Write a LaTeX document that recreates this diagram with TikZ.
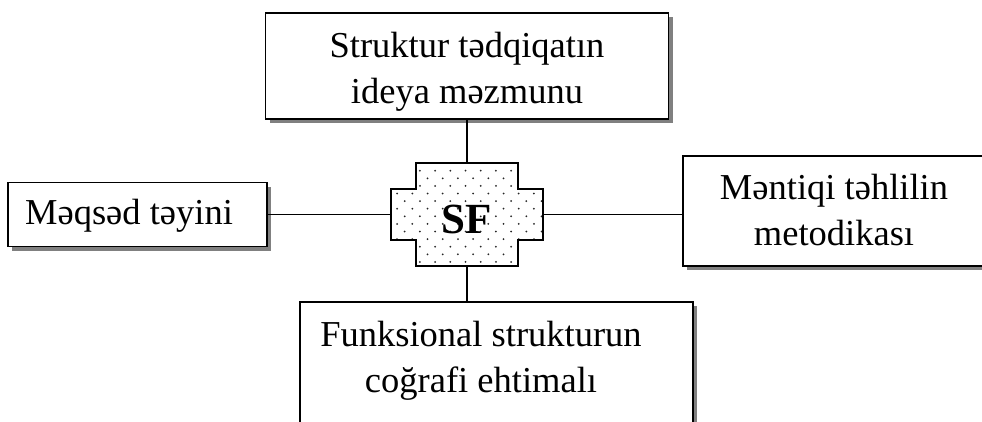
\documentclass[tikz,border=0pt]{standalone}
\usepackage{fontspec}
\setmainfont{Liberation Serif}
\usetikzlibrary{shadows}
\begin{document}
\begin{tikzpicture}[x=1pt,y=-1pt,
  box/.style={draw=black, line width=1.9pt, fill=white, rectangle, inner sep=0pt,
     general shadow={fill=black!50, shadow xshift=4pt, shadow yshift=-4pt}},
  lbl/.style={font=\fontsize{36.5}{46}\selectfont, align=center, inner sep=0pt},
  ghost/.style={rectangle, inner sep=0pt, draw=none},
  link/.style={line width=1.6pt}]
\useasboundingbox (0,0) rectangle (982,421);
\fill[white] (0,0) rectangle (982,421);
% boxes
\node[box, minimum width=403pt, minimum height=106pt] (top) at (467,66) {};
\node[box, minimum width=259pt, minimum height=64pt] (left) at (137.5,214.5) {};
\node[box, minimum width=318pt, minimum height=110pt] (right) at (842,211) {};
\node[box, minimum width=393pt, minimum height=138pt] (bot) at (496.5,371) {};
% texts
\node[lbl] (ttop) at (467,71.5) {Struktur tədqiqatın\\ideya məzmunu};
\node[lbl] (tleft) at (129,215.6) {Məqsəd təyini};
\node[lbl] (tright) at (834,210.5) {Məntiqi təhlilin\\metodikası};
\node[lbl] (tbot) at (481,361) {Funksional strukturun\\coğrafi ehtimalı};
% centre cross
\node[ghost, minimum width=152pt, minimum height=51pt] (sfh) at (467,214.5) {};
\node[ghost, minimum width=101pt, minimum height=103pt] (sfv) at (467,214.5) {};
\begin{scope}[shift={(8,5)}]
\fill[black!50] (sfv.north west) -- (sfv.north east) -- (sfv.east |- sfh.north) -- (sfh.north east)
  -- (sfh.south east) -- (sfv.east |- sfh.south) -- (sfv.south east) -- (sfv.south west)
  -- (sfv.west |- sfh.south) -- (sfh.south west) -- (sfh.north west) -- (sfv.west |- sfh.north) -- cycle;
\end{scope}
\fill[white] (sfv.north west) -- (sfv.north east) -- (sfv.east |- sfh.north) -- (sfh.north east)
  -- (sfh.south east) -- (sfv.east |- sfh.south) -- (sfv.south east) -- (sfv.south west)
  -- (sfv.west |- sfh.south) -- (sfh.south west) -- (sfh.north west) -- (sfv.west |- sfh.north) -- cycle;
\begin{scope}
\clip (sfv.north west) -- (sfv.north east) -- (sfv.east |- sfh.north) -- (sfh.north east)
  -- (sfh.south east) -- (sfv.east |- sfh.south) -- (sfv.south east) -- (sfv.south west)
  -- (sfv.west |- sfh.south) -- (sfh.south west) -- (sfh.north west) -- (sfv.west |- sfh.north) -- cycle;
\foreach \r in {0,...,13} {
  \pgfmathsetmacro\yy{170.7+7.6*\r}
  \pgfmathsetmacro\xo{mod(\r,2)*7.6}
  \foreach \c in {0,...,11} {
    \fill[black!85] (389.5+\xo+15.2*\c, \yy) circle (1pt);
  }
}
\end{scope}
\draw[line width=1.9pt, line join=miter] (sfv.north west) -- (sfv.north east) -- (sfv.east |- sfh.north) -- (sfh.north east)
  -- (sfh.south east) -- (sfv.east |- sfh.south) -- (sfv.south east) -- (sfv.south west)
  -- (sfv.west |- sfh.south) -- (sfh.south west) -- (sfh.north west) -- (sfv.west |- sfh.north) -- cycle;
\node[inner sep=0pt, font=\bfseries\fontsize{43}{43}\selectfont] (sflabel) at (467,219) {SF};
% connectors
\draw[link] (top.south) -- (sfv.north);
\draw[link] (left.east) -- (sfh.west);
\draw[link] (sfh.east) -- (sfh.east -| right.west);
\draw[link] (sfv.south) -- (sfv.south |- bot.north);
\end{tikzpicture}
\end{document}
